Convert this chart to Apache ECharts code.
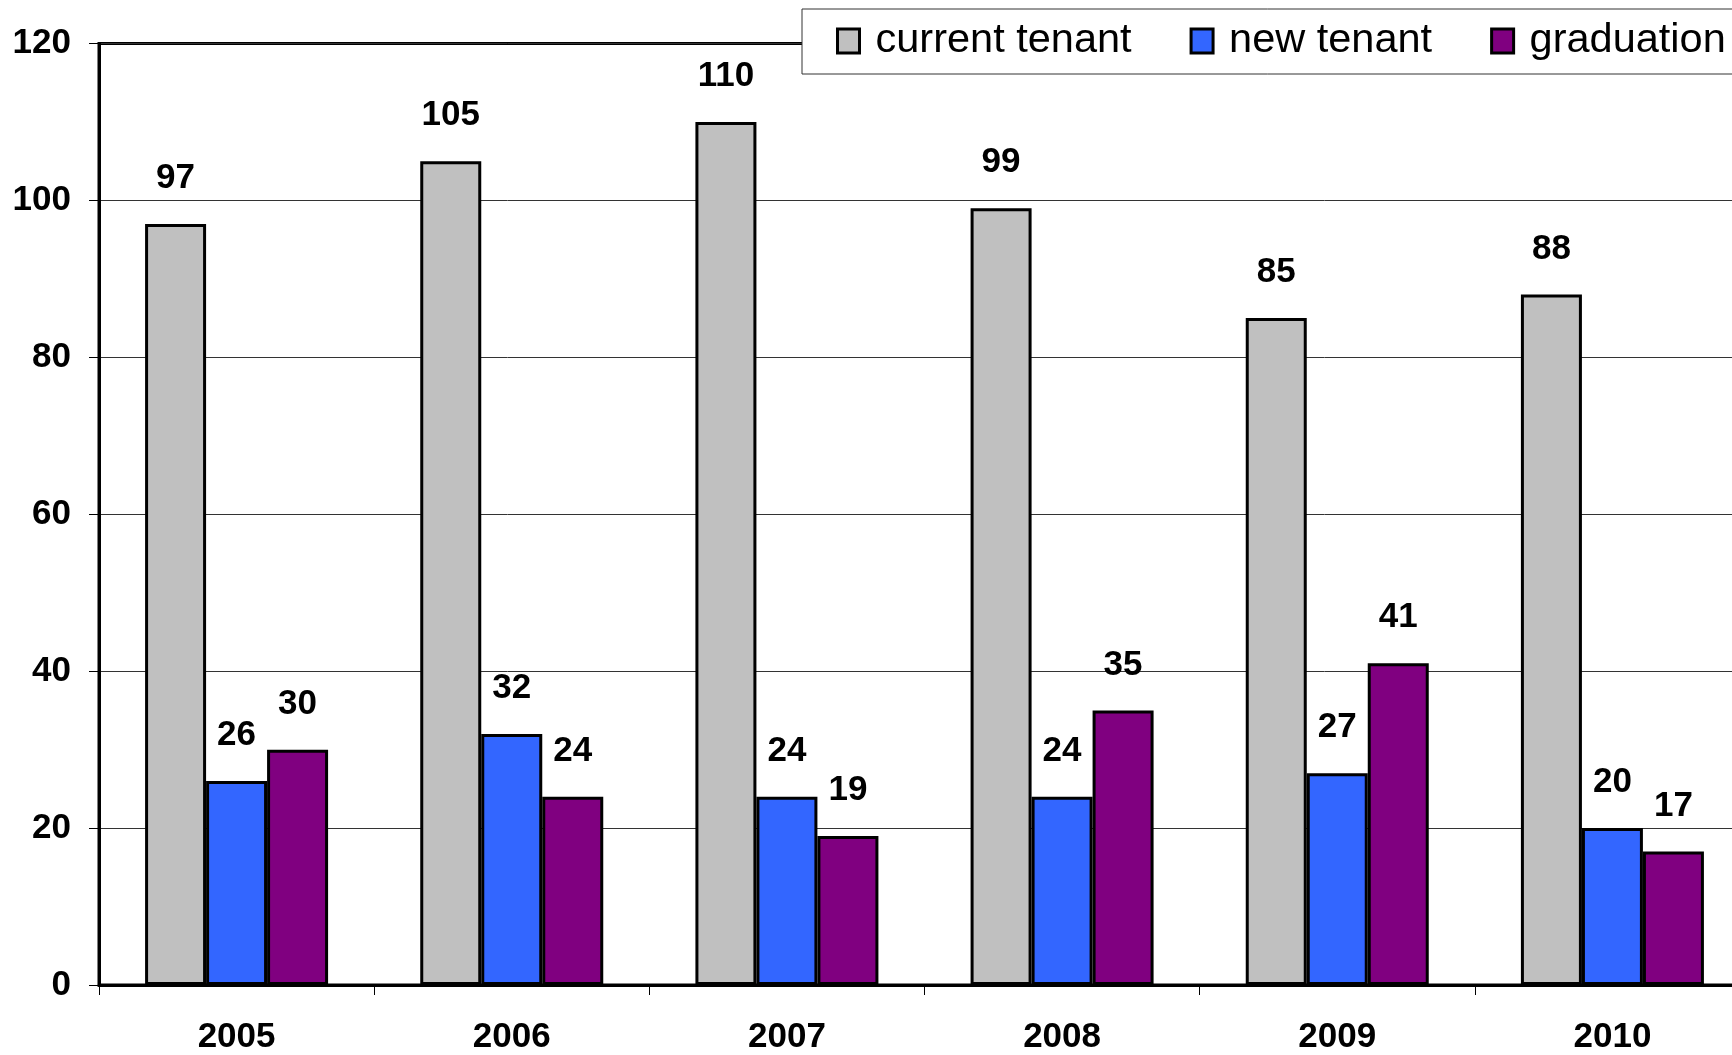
<!DOCTYPE html>
<html>
<head>
<meta charset="utf-8">
<script src="https://cdn.jsdelivr.net/npm/echarts@6/dist/echarts.min.js"></script>
<style>
html,body{margin:0;padding:0;background:#fff;}
#chart{width:1732px;height:1055px;}
</style>
</head>
<body>
<div id="chart"></div>
<script>
const categories = ['2005', '2006', '2007', '2008', '2009', '2010'];
const currentTenant = [97, 105, 110, 99, 85, 88];
const newTenant = [26, 32, 24, 24, 27, 20];
const graduation = [30, 24, 19, 35, 41, 17];
const seriesNames = ['current tenant', 'new tenant', 'graduation'];
const seriesColors = ['#C0C0C0', '#3366FF', '#800080'];
const yTicks = { min: 0, max: 120, interval: 20 };

const FONT = '"Liberation Sans", Arial, Helvetica, sans-serif';
const chart = echarts.init(document.getElementById('chart'), null, { renderer: 'canvas' });

function makeSeries(name, data, color) {
  return {
    name: name,
    type: 'bar',
    data: data,
    barWidth: 61,
    barGap: '0%',
    itemStyle: { color: color, borderColor: '#000', borderWidth: 3 },
    label: {
      show: true,
      position: 'top',
      distance: 28,
      color: '#000',
      fontFamily: FONT,
      fontWeight: 'bold',
      fontSize: 35
    }
  };
}

chart.setOption({
  animation: false,
  backgroundColor: '#fff',
  grid: {
    left: 99, top: 43.5, width: 1651, bottom: 70,
    outerBoundsMode: 'none',
    containLabel: false,
    show: true, borderColor: '#000', borderWidth: 3, backgroundColor: 'transparent'
  },
  legend: {
    left: 802, top: 9, width: 1200,
    orient: 'horizontal',
    padding: [10, 80, 11, 34],
    backgroundColor: '#fff',
    borderColor: '#333',
    borderWidth: 1,
    itemWidth: 22,
    itemHeight: 24,
    itemGap: 58,
    icon: 'rect',
    itemStyle: { borderColor: '#000', borderWidth: 3 },
    data: seriesNames,
    textStyle: {
      fontFamily: FONT, fontSize: 41.5, color: '#000', lineHeight: 44,
      padding: [0, 0, 0, 11]
    }
  },
  xAxis: {
    type: 'category',
    data: categories,
    axisLine: { lineStyle: { color: '#000', width: 3 } },
    axisTick: { show: true, length: 10, lineStyle: { color: '#000', width: 1 } },
    axisLabel: {
      margin: 35, color: '#000', fontFamily: FONT, fontWeight: 'bold', fontSize: 35
    }
  },
  yAxis: {
    type: 'value',
    min: yTicks.min, max: yTicks.max, interval: yTicks.interval,
    axisLine: { show: true, lineStyle: { color: '#000', width: 3 } },
    axisTick: { show: true, length: 10, lineStyle: { color: '#000', width: 1 } },
    splitLine: { show: true, lineStyle: { color: '#333', width: 1 } },
    axisLabel: {
      margin: 28, color: '#000', fontFamily: FONT, fontWeight: 'bold', fontSize: 35
    }
  },
  series: [
    makeSeries(seriesNames[0], currentTenant, seriesColors[0]),
    makeSeries(seriesNames[1], newTenant, seriesColors[1]),
    makeSeries(seriesNames[2], graduation, seriesColors[2])
  ]
});
</script>
</body>
</html>
